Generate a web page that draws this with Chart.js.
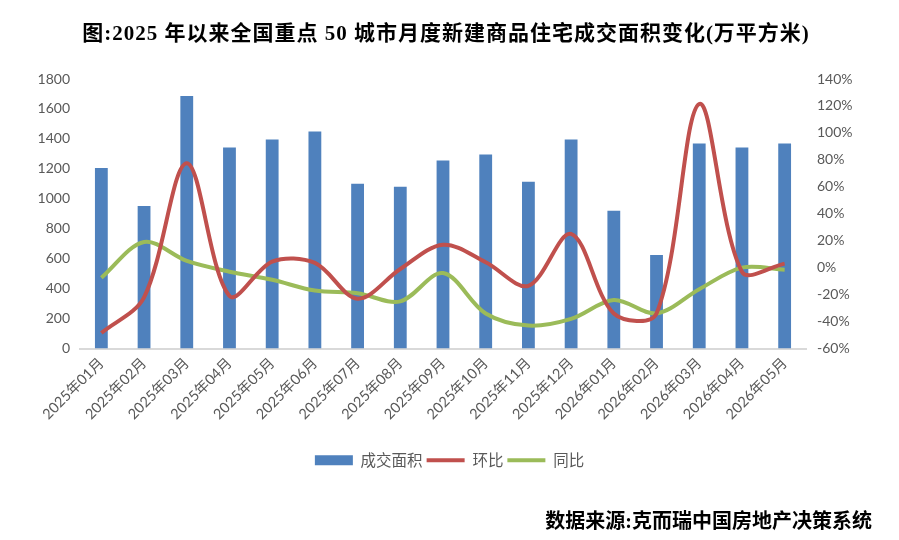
<!DOCTYPE html>
<html>
<head>
<meta charset="utf-8">
<script src="https://cdn.jsdelivr.net/npm/chart.js@4/dist/chart.umd.min.js"></script>
<style>
  html, body { margin: 0; padding: 0; background: #fff; }
  #wrap { width: 899px; height: 540px; position: relative; }
</style>
</head>
<body>
<div id="wrap"><canvas id="c" width="899" height="540"></canvas></div>
<script>
const MONTHS = ['2025年01月','2025年02月','2025年03月','2025年04月','2025年05月','2025年06月','2025年07月','2025年08月','2025年09月','2025年10月','2025年11月','2025年12月','2026年01月','2026年02月','2026年03月','2026年04月','2026年05月'];
const AREA = [1205, 952, 1686, 1342, 1396, 1450, 1100, 1080, 1255, 1295, 1113, 1396, 920, 625, 1370, 1342, 1370];
const MOM  = [-48.5, -22, 77.5, -21, 4.5, 3.5, -23, -1, 17, 4, -13.5, 25, -34, -34, 121.5, -3, 3];
const YOY  = [-7.5, 19, 5, -3, -9, -17, -19, -25, -4, -34, -43, -38, -24, -34, -16, 0, -1.5];

const TITLE = '图:2025 年以来全国重点 50 城市月度新建商品住宅成交面积变化(万平方米)';
const SOURCE = '数据来源:克而瑞中国房地产决策系统';

const TICK = '#595959';
const CJK = '"Noto Sans CJK SC"';
const SERIF = '"Liberation Serif", ' + CJK;

// title + source note are drawn by hand so the letter spacing can match
const texts = {
  id: 'texts',
  afterDraw(chart) {
    const ctx = chart.ctx;
    ctx.save();
    ctx.fillStyle = '#000';
    ctx.textBaseline = 'middle';
    ctx.font = 'bold 21px ' + SERIF;
    ctx.letterSpacing = '1px';
    ctx.textAlign = 'center';
    ctx.fillText(TITLE, 446, 35);
    ctx.font = 'bold 20px ' + SERIF;
    ctx.letterSpacing = '0px';
    ctx.textAlign = 'right';
    ctx.fillText(SOURCE, 872, 523);
    ctx.restore();
  }
};

new Chart(document.getElementById('c'), {
  type: 'bar',
  data: {
    labels: MONTHS,
    datasets: [
      { label: '成交面积', data: AREA, backgroundColor: '#4F81BD', yAxisID: 'y',
        barPercentage: 0.3, categoryPercentage: 1, order: 3, pointStyle: 'rect' },
      { type: 'line', label: '环比', data: MOM, borderColor: '#C0504D', backgroundColor: '#C0504D',
        borderWidth: 4, tension: 0.33, pointRadius: 0, yAxisID: 'y1', order: 1, pointStyle: 'line' },
      { type: 'line', label: '同比', data: YOY, borderColor: '#9BBB59', backgroundColor: '#9BBB59',
        borderWidth: 4, tension: 0.33, pointRadius: 0, yAxisID: 'y1', order: 2, pointStyle: 'line' },
    ],
  },
  options: {
    responsive: false, animation: false,
    layout: { padding: { left: 0, right: 0, top: 79, bottom: 62 } },
    plugins: {
      title: { display: false },
      legend: {
        display: true, position: 'bottom',
        labels: {
          usePointStyle: true, pointStyleWidth: 38, boxHeight: 10,
          color: TICK, padding: 4,
          font: { size: 15.5, family: CJK },
          sort: (a, b) => a.datasetIndex - b.datasetIndex,
        },
      },
      tooltip: { enabled: false },
    },
    scales: {
      x: {
        grid: { display: false, drawTicks: false },
        border: { display: true, color: '#d9d9d9', width: 2 },
        ticks: { color: TICK, font: { size: 14.5, family: 'Lato, ' + CJK }, minRotation: 45, maxRotation: 45, autoSkip: false, padding: 6 },
        afterFit: s => { s.height = 100; },
      },
      y: {
        position: 'left', min: 0, max: 1800,
        grid: { display: false, drawTicks: false },
        border: { display: false },
        ticks: { stepSize: 200, color: TICK, font: { size: 14, family: 'Lato' }, padding: 10, callback: v => v },
        afterFit: s => { s.width = 80; },
      },
      y1: {
        position: 'right', min: -60, max: 140,
        grid: { display: false, drawTicks: false },
        border: { display: false },
        ticks: { stepSize: 20, color: TICK, font: { size: 14, family: 'Lato' }, padding: 11, callback: v => v + '%' },
        afterFit: s => { s.width = 93; },
      },
    },
  },
  plugins: [texts],
});
</script>
</body>
</html>
